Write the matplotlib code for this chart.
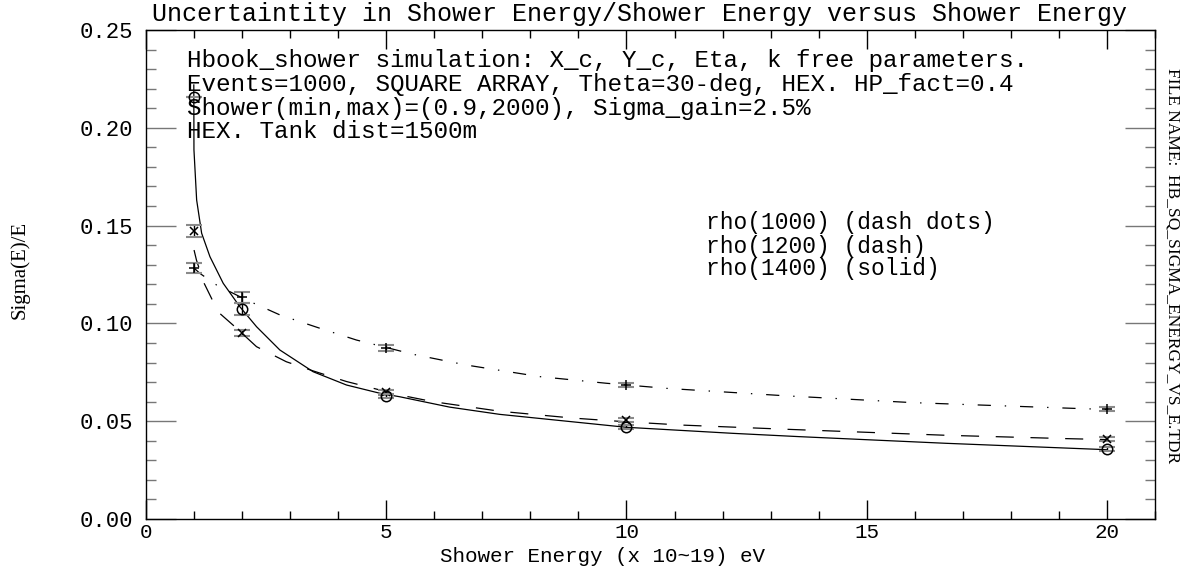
import numpy as np
import matplotlib.pyplot as plt
from matplotlib.ticker import MultipleLocator, FormatStrFormatter

# measured points, energy in units of 10^19 eV
energy = [1, 2, 5, 10, 20]
sig_rho1000 = [0.1283, 0.1133, 0.0876, 0.0685, 0.0561]
err_rho1000 = [0.0025, 0.0028, 0.0015, 0.0010, 0.0010]
sig_rho1200 = [0.1472, 0.0950, 0.0648, 0.0504, 0.0407]
err_rho1200 = [0.0030, 0.0015, 0.0012, 0.0010, 0.0010]
sig_rho1400 = [0.2157, 0.1072, 0.0629, 0.0469, 0.0356]
err_rho1400 = [0.0, 0.0030, 0.0012, 0.0010, 0.0010]

# fitted curves (sampled)
fit1000_x = [1.0, 1.12, 1.47, 2.09, 2.79, 3.62, 4.38, 5.0, 5.56, 6.67, 8.19,
             9.58, 10.83, 13.3, 15.95, 19.27, 20.0]
fit1000_y = [0.1283, 0.1256, 0.1196, 0.1120, 0.1043, 0.0975, 0.0915, 0.0877,
             0.0842, 0.0787, 0.0728, 0.0694, 0.0668, 0.0630, 0.0595, 0.0566,
             0.0560]
fit1200_x = [1.0, 1.05, 1.2, 1.4, 1.54, 1.85, 2.3, 2.92, 3.48, 4.17, 5.28,
             5.97, 7.36, 8.88, 9.99, 11.17, 13.3, 16.65, 19.14, 20.0]
fit1200_y = [0.1375, 0.1324, 0.1210, 0.1110, 0.1050, 0.0983, 0.0881, 0.0804,
             0.0757, 0.0703, 0.0634, 0.0600, 0.0551, 0.0516, 0.0497, 0.0480,
             0.0459, 0.0428, 0.0411, 0.0406]
fit1400_x = [0.995, 0.998, 1.054, 1.158, 1.331, 1.607, 1.954, 2.301, 2.786,
             3.478, 4.173, 4.865, 5.28, 6.32, 7.36, 9.99, 12.21, 13.6, 16.65,
             19.83, 20.0]
fit1400_y = [0.2219, 0.1887, 0.1631, 0.1461, 0.1341, 0.1205, 0.1085, 0.0983,
             0.0864, 0.0753, 0.0685, 0.0643, 0.0625, 0.0572, 0.0535, 0.0469,
             0.0438, 0.0421, 0.0387, 0.0356, 0.0354]

info_lines = [
    "Hbook_shower simulation: X_c, Y_c, Eta, k free parameters.",
    "Events=1000, SQUARE ARRAY, Theta=30-deg, HEX. HP_fact=0.4",
    "Shower(min,max)=(0.9,2000), Sigma_gain=2.5%",
    "HEX. Tank dist=1500m",
]
legend_lines = ["rho(1000) (dash dots)", "rho(1200) (dash)", "rho(1400) (solid)"]

W, H = 1199, 571
plt.rcParams['font.family'] = 'Liberation Mono'
plt.rcParams['lines.scale_dashes'] = False

fig = plt.figure(figsize=(W / 100, H / 100), dpi=100)
ax = fig.add_axes([146 / W, 1 - 519 / H, (1155 - 146) / W, (519 - 30) / H])


def fx(px):
    return px / W


def fy(py):
    return 1 - py / H


lw = 0.9
ax.plot(fit1000_x, fit1000_y, color='k', lw=lw, dashes=(9.5, 10, 1, 10))
ax.plot(fit1200_x, fit1200_y, color='k', lw=lw, dashes=(13, 12))
ax.plot(fit1400_x, fit1400_y, color='k', lw=lw)

for sig, err, mk, ms in [(sig_rho1000, err_rho1000, '+', 7),
                         (sig_rho1200, err_rho1200, 'x', 6),
                         (sig_rho1400, err_rho1400, 'o', 7.5)]:
    eb = ax.errorbar(energy, sig, yerr=err, fmt='none', ecolor='k',
                     elinewidth=1, capsize=5.5, capthick=1.5)
    for cap in eb[1]:
        cap.set_markeredgecolor('#8a8a8a')
    ax.plot(energy, sig, ls='none', marker=mk, ms=ms, mew=1.1,
            mfc='none', mec='k')

ax.set_xlim(0, 21)
ax.set_ylim(0, 0.25)
ax.xaxis.set_major_locator(MultipleLocator(5))
ax.xaxis.set_minor_locator(MultipleLocator(1))
ax.yaxis.set_major_locator(MultipleLocator(0.05))
ax.yaxis.set_minor_locator(MultipleLocator(0.01))
ax.yaxis.set_major_formatter(FormatStrFormatter('%.2f'))

ax.tick_params(axis='y', which='major', direction='in', length=21.6, width=1,
               color='#777777', left=True, right=True, labelsize=16, pad=9)
ax.tick_params(axis='y', which='minor', direction='in', length=7.2, width=1,
               color='#777777', left=True, right=True)
ax.tick_params(axis='x', which='major', direction='in', length=14, width=1,
               color='k', top=True, bottom=True, labelsize=15, pad=3)
ax.tick_params(axis='x', which='minor', direction='in', length=5.5, width=1,
               color='k', top=True, bottom=True)
for sp in ax.spines.values():
    sp.set_linewidth(1)

fig.text(fx(640), fy(14), "Uncertaintity in Shower Energy/Shower Energy versus Shower Energy",
         ha='center', va='center', fontsize=18)
for i, line in enumerate(info_lines):
    fig.text(fx(187), fy(60 + 24 * i), line, ha='left', va='center', fontsize=17.5)
for line, ypx in zip(legend_lines, [223, 246, 268]):
    fig.text(fx(706), fy(ypx), line, ha='left', va='center', fontsize=16.5)

fig.text(fx(602), fy(556), "Shower Energy (x 10~19) eV", ha='center',
         va='center', fontsize=15)
fig.text(fx(20), fy(270), "Sigma(E)/E", ha='center', va='center',
         rotation=90, fontsize=15, family='Liberation Serif')
fig.text(fx(1172), fy(266), "FILE NAME:  HB_SQ_SIGMA_ENERGY_VS_E.TDR",
         ha='center', va='center', rotation=-90, fontsize=12.5,
         family='Liberation Serif')

fig.savefig('out.png', dpi=100)
